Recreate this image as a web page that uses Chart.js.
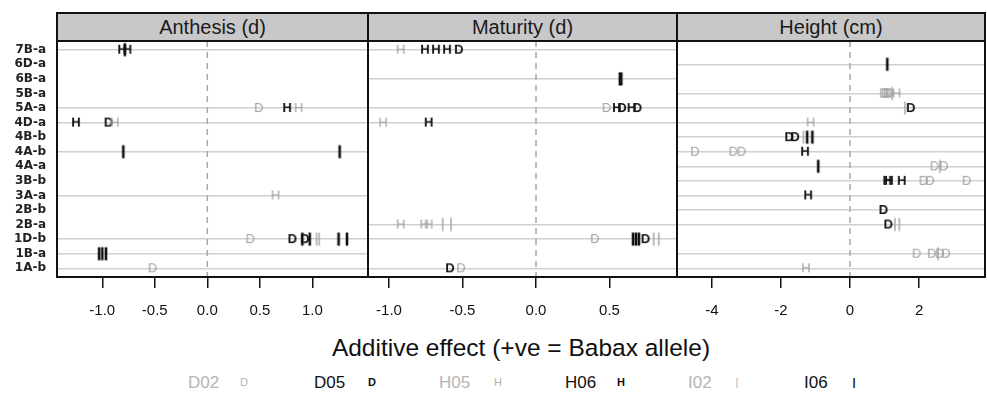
<!DOCTYPE html>
<html><head><meta charset="utf-8">
<script src="https://cdn.jsdelivr.net/npm/chart.js@4.4.0/dist/chart.umd.min.js"></script>
<style>
html,body{margin:0;padding:0;background:#fff;}
#wrap{position:relative;width:987px;height:397px;overflow:hidden;font-family:"Liberation Sans",Arial,sans-serif;color:#111;}
.strip{position:absolute;top:12px;height:30px;box-sizing:border-box;border:2px solid #111;background:#c8c8c8;text-align:center;font-size:20px;line-height:27px;color:#1a1a1a;}
.cv{position:absolute;}
#xtitle{position:absolute;left:221px;width:600px;top:334px;text-align:center;font-size:24.5px;line-height:28px;color:#111;white-space:nowrap;}
.lg{position:absolute;top:372px;font-size:17px;line-height:22px;white-space:nowrap;}
.sym{position:absolute;top:376px;font-size:11px;line-height:13px;transform:translateX(-50%);}
</style></head><body>
<div id="wrap">
  <div class="strip" style="left:56px;width:313px">Anthesis (d)</div>
  <div class="strip" style="left:367px;width:311px">Maturity (d)</div>
  <div class="strip" style="left:676px;width:310px">Height (cm)</div>
  <canvas id="c0" class="cv" style="left:0px;top:39px" width="370" height="283"></canvas>
  <canvas id="c1" class="cv" style="left:366px;top:39px" width="313" height="283"></canvas>
  <canvas id="c2" class="cv" style="left:675px;top:39px" width="312" height="283"></canvas>
  <div id="xtitle">Additive effect (+ve = Babax allele)</div>
  <div id="legend"></div>
</div>
<script>
// ---------- data ----------
const categories = ['7B-a','6D-a','6B-a','5B-a','5A-a','4D-a','4B-b','4A-b','4A-a','3B-b','3A-a','2B-b','2B-a','1D-b','1B-a','1A-b'];
const seriesNames = ['D02','D05','H05','H06','I02','I06'];
const seriesSymbols = ['D','D','H','H','|','|'];
const seriesColors = ['#a0a0a0','#111111','#a0a0a0','#111111','#a0a0a0','#111111'];

const anthesisTicks = [-1.0,-0.5,0.0,0.5,1.0];
const anthesisTickLabels = ['-1.0','-0.5','0.0','0.5','1.0'];
const maturityTicks = [-1.0,-0.5,0.0,0.5];
const maturityTickLabels = ['-1.0','-0.5','0.0','0.5'];
const heightTicks = [-4,-2,0,2];
const heightTickLabels = ['-4','-2','0','2'];
const anthesisRange = [-1.431, 1.530];
const maturityRange = [-1.143, 0.959];
const heightRange = [-5.01, 3.91];

// Anthesis (d)
const anthesisD02 = [['5A-a',0.49],['1D-b',0.41],['1A-b',-0.52]];
const anthesisD05 = [['4D-a',-0.94],['1D-b',0.81],['1D-b',0.93]];
const anthesisH05 = [['5A-a',0.87],['4D-a',-0.88],['3A-a',0.65]];
const anthesisH06 = [['7B-a',-0.81],['7B-a',-0.76],['5A-a',0.76],['4D-a',-1.25]];
const anthesisI02 = [['1D-b',1.04],['1D-b',1.065]];
const anthesisI06 = [['7B-a',-0.785],['4A-b',-0.80],['4A-b',1.26],['1D-b',0.905],['1D-b',0.975],['1D-b',1.25],['1D-b',1.33],['1B-a',-1.03],['1B-a',-1.0],['1B-a',-0.965]];

// Maturity (d)
const maturityD02 = [['5A-a',0.48],['1D-b',0.40],['1A-b',-0.51]];
const maturityD05 = [['7B-a',-0.525],['5A-a',0.585],['5A-a',0.69],['1D-b',0.745],['1A-b',-0.585]];
const maturityH05 = [['7B-a',-0.92],['4D-a',-1.04],['2B-a',-0.92],['2B-a',-0.76],['2B-a',-0.73]];
const maturityH06 = [['7B-a',-0.755],['7B-a',-0.68],['7B-a',-0.605],['5A-a',0.55],['5A-a',0.65],['4D-a',-0.73]];
const maturityI02 = [['2B-a',-0.635],['2B-a',-0.578],['1D-b',0.80],['1D-b',0.835]];
const maturityI06 = [['6B-a',0.57],['6B-a',0.58],['1D-b',0.66],['1D-b',0.68],['1D-b',0.70]];

// Height (cm)
const heightD02 = [['5B-a',0.98],['5B-a',1.04],['5B-a',1.1],['5B-a',1.16],['4A-b',-4.49],['4A-b',-3.38],['4A-b',-3.14],['4A-a',2.45],['4A-a',2.72],['3B-b',2.13],['3B-b',2.32],['3B-b',3.38],['1B-a',1.93],['1B-a',2.37],['1B-a',2.6],['1B-a',2.78]];
const heightD05 = [['5A-a',1.76],['4B-b',-1.76],['4B-b',-1.59],['2B-b',0.97],['2B-a',1.11]];
const heightH05 = [['5B-a',1.35],['4D-a',-1.14],['1A-b',-1.275]];
const heightH06 = [['4A-b',-1.30],['3B-b',1.08],['3B-b',1.13],['3B-b',1.50],['3A-a',-1.21]];
const heightI02 = [['5B-a',1.22],['5A-a',1.59],['4B-b',-1.35],['4A-a',2.6],['2B-a',1.30],['2B-a',1.43],['1B-a',2.55]];
const heightI06 = [['6D-a',1.08],['4B-b',-1.24],['4B-b',-1.09],['4A-a',-0.92]];

// ---------- drawing ----------
function makeMarker(sym, color, bold){
  const c = document.createElement('canvas');
  c.width = 12; c.height = 16;
  const g = c.getContext('2d');
  g.fillStyle = color;
  if (sym === '|') {
    const w = bold ? 2.6 : 1.4;
    g.fillRect(6 - w/2, 1.5, w, 13);
  } else {
    g.font = (bold ? 'bold ' : '') + '13px "Liberation Sans",Arial,sans-serif';
    g.textAlign = 'center'; g.textBaseline = 'middle';
    g.fillText(sym, 6, 8.5);
  }
  return c;
}
const markers = seriesNames.map((n,i)=>makeMarker(seriesSymbols[i], seriesColors[i], seriesColors[i] === '#111111'));

const panelPlugin = {
  id: 'panelFrame',
  beforeDatasetsDraw(chart){
    const {ctx, chartArea:a} = chart;
    const px = chart.scales.x.getPixelForValue(0);
    ctx.save();
    ctx.strokeStyle = '#a8a8a8'; ctx.lineWidth = 1.5; ctx.setLineDash([6,5]);
    ctx.beginPath(); ctx.moveTo(px, a.top); ctx.lineTo(px, a.bottom); ctx.stroke();
    ctx.restore();
  },
  afterDraw(chart){
    const {ctx, chartArea:a} = chart;
    ctx.save();
    ctx.strokeStyle = '#111'; ctx.lineWidth = 2;
    ctx.strokeRect(a.left, a.top, a.right - a.left, a.bottom - a.top);
    ctx.restore();
  }
};

function zeroPad(s){ s.paddingLeft = 0; s.paddingRight = 0; s.paddingTop = 0; s.paddingBottom = 0; }

const panels = [
  {canvas:'c0', range:anthesisRange, ticks:anthesisTicks, labels:anthesisTickLabels, showY:true,
   series:[anthesisD02, anthesisD05, anthesisH05, anthesisH06, anthesisI02, anthesisI06]},
  {canvas:'c1', range:maturityRange, ticks:maturityTicks, labels:maturityTickLabels, showY:false,
   series:[maturityD02, maturityD05, maturityH05, maturityH06, maturityI02, maturityI06]},
  {canvas:'c2', range:heightRange, ticks:heightTicks, labels:heightTickLabels, showY:false,
   series:[heightD02, heightD05, heightH05, heightH06, heightI02, heightI06]}
];

panels.forEach(p => {
  const rows = new Set();
  p.series.forEach(s => s.forEach(([r]) => rows.add(categories.indexOf(r) + 1)));
  const datasets = seriesNames.map((name, si) => ({
    label: name,
    data: p.series[si].map(([r, v]) => ({x: v, y: categories.indexOf(r) + 1})),
    pointStyle: markers[si],
    pointRadius: 6,
    order: seriesNames.length - si
  }));
  new Chart(document.getElementById(p.canvas), {
    type: 'scatter',
    data: {datasets},
    options: {
      responsive: false, animation: false, devicePixelRatio: 1, events: [],
      layout: {autoPadding: false, padding: {left: p.showY ? 0 : 2, right: 2, top: 2, bottom: 0}},
      plugins: {legend: {display: false}, tooltip: {enabled: false}},
      scales: {
        x: {
          type: 'linear', min: p.range[0], max: p.range[1],
          afterBuildTicks: s => { s.ticks = p.ticks.map(v => ({value: v})); },
          afterFit: s => { s.height = 45; zeroPad(s); },
          border: {display: false},
          grid: {drawOnChartArea: false, drawTicks: true, tickLength: 11, color: '#111', lineWidth: 1.5},
          ticks: {padding: 14, color: '#111', autoSkip: false, maxRotation: 0,
                  font: {family: '"Liberation Sans",Arial', size: 15},
                  callback: (v, i) => p.labels[i]}
        },
        y: {
          type: 'linear', reverse: true, min: 0.4, max: 16.6,
          afterBuildTicks: s => { s.ticks = categories.map((c, i) => ({value: i + 1})); },
          afterFit: s => { s.width = p.showY ? 57 : 0; zeroPad(s); },
          border: {display: false},
          grid: {drawTicks: false, lineWidth: 1.5,
                 color: ctx => (ctx.tick && rows.has(ctx.tick.value)) ? '#d0d0d0' : 'rgba(0,0,0,0)'},
          ticks: {display: p.showY, padding: 11, autoSkip: false, color: '#222',
                  font: {family: '"DejaVu Sans"', size: 12, weight: 'bold'},
                  callback: v => categories[Math.round(v) - 1]}
        }
      }
    },
    plugins: [panelPlugin]
  });
});

// legend (HTML text)
const legendTextX = [188, 314, 439, 565, 688, 804];
const legendSymX = [244, 372, 498, 621, 737, 854];
const lg = document.getElementById('legend');
seriesNames.forEach((n, i) => {
  const black = seriesColors[i] === '#111111';
  const t = document.createElement('span');
  t.className = 'lg'; t.textContent = n;
  t.style.left = legendTextX[i] + 'px';
  t.style.color = black ? '#111' : '#b4b4b4';
  lg.appendChild(t);
  const s = document.createElement('span');
  s.className = 'sym'; s.textContent = seriesSymbols[i];
  s.style.left = legendSymX[i] + 'px';
  s.style.color = black ? '#111' : '#b4b4b4';
  s.style.fontWeight = black ? 'bold' : 'normal';
  lg.appendChild(s);
});
</script>
</body></html>
